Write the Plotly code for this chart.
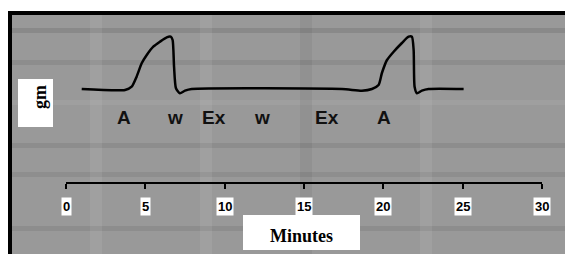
import plotly.graph_objects as go

W, H = 565, 254

# Trace data (minutes, relative deflection)
minutes = [0.99, 3.72, 4.14, 4.45, 4.77, 5.09, 5.50, 5.92, 6.35, 6.60, 6.72, 6.81, 6.93, 7.18, 7.50, 7.92,
           17.39, 18.65, 19.28, 19.70, 19.91, 20.23, 20.65, 21.17, 21.59, 21.80, 21.91, 21.97, 22.12, 22.43, 22.85, 25.06]
deflection = [0, -1, 2.3, 12.3, 25.7, 34, 42.3, 47.3, 51.7, 52.3, 49, 22.3, 0.7, -4.3, -1.7, 0,
              0, -1.7, 0, 4, 16, 29, 37.3, 46, 52.3, 52.3, 39, 2.3, -4.3, -1.7, 0, 0]

event_labels = ["A", "w", "Ex", "w", "Ex", "A"]
event_x = [3.65, 6.84, 9.33, 12.35, 16.48, 20.04]

tick_vals = [0, 5, 10, 15, 20, 25, 30]
tick_text = ["0", "5", "10", "15", "20", "25", "30"]

x_title = "Minutes"
y_title = "gm"


def px(xp):
    return xp / W


def py(yp):
    return 1 - yp / H


fig = go.Figure()
fig.add_trace(go.Scatter(x=minutes, y=deflection, mode="lines",
                         line=dict(color="black", width=2.5, shape="spline", smoothing=0.6),
                         hoverinfo="skip", showlegend=False))

shapes = [
    dict(type="rect", xref="paper", yref="paper", x0=px(8), x1=1, y0=0, y1=py(11),
         fillcolor="black", line_width=0, layer="below"),
    dict(type="rect", xref="paper", yref="paper", x0=px(12), x1=1, y0=0, y1=py(15),
         fillcolor="#999999", line_width=0, layer="below"),
]
# faint plaid texture bands
for yb, c in [(28, "rgba(0,0,0,0.10)"), (60, "rgba(0,0,0,0.08)"), (100, "rgba(255,255,255,0.06)"),
              (143, "rgba(0,0,0,0.08)"), (172, "rgba(0,0,0,0.07)"), (226, "rgba(0,0,0,0.08)")]:
    shapes.append(dict(type="rect", xref="paper", yref="paper", x0=px(12), x1=1, y0=py(yb + 5), y1=py(yb),
                       fillcolor=c, line_width=0, layer="below"))
for xb, c in [(90, "rgba(255,255,255,0.07)"), (200, "rgba(255,255,255,0.07)"), (300, "rgba(0,0,0,0.05)"),
              (420, "rgba(255,255,255,0.07)")]:
    shapes.append(dict(type="rect", xref="paper", yref="paper", x0=px(xb), x1=px(xb + 12), y0=0, y1=py(15),
                       fillcolor=c, line_width=0, layer="below"))
shapes += [
    dict(type="rect", xref="paper", yref="paper", x0=px(18), x1=px(53), y0=py(127), y1=py(79),
         fillcolor="white", line_width=0, layer="below"),
    dict(type="rect", xref="paper", yref="paper", x0=px(243), x1=px(360), y0=py(250), y1=py(215),
         fillcolor="white", line_width=0, layer="below"),
]

annotations = []
for lab, xv in zip(event_labels, event_x):
    annotations.append(dict(x=xv, y=-28, xref="x", yref="y", text="<b>" + lab + "</b>", showarrow=False,
                            font=dict(family="Liberation Sans", size=19, color="#111"),
                            xanchor="center", yanchor="middle"))
for tv, tt in zip(tick_vals, tick_text):
    annotations.append(dict(x=tv, y=py(206), xref="x", yref="paper", text="<b>" + tt + "</b>",
                            showarrow=False, bgcolor="white", borderpad=1,
                            font=dict(family="Liberation Sans", size=13, color="black"),
                            xanchor="center", yanchor="middle"))
annotations.append(dict(x=px(301), y=py(236), xref="paper", yref="paper", text="<b>" + x_title + "</b>",
                        showarrow=False, font=dict(family="Liberation Serif", size=18, color="black"),
                        xanchor="center", yanchor="middle"))
annotations.append(dict(x=px(40), y=py(97), xref="paper", yref="paper", text="<b>" + y_title + "</b>",
                        showarrow=False, textangle=-90,
                        font=dict(family="Liberation Serif", size=18, color="black"),
                        xanchor="center", yanchor="middle"))

# y scale: y=0 at pixel 89, 1 unit per pixel
y_top = 89
y_bot = y_top - H

fig.update_layout(
    width=W, height=H, margin=dict(l=0, r=0, t=0, b=0),
    paper_bgcolor="white", plot_bgcolor="rgba(0,0,0,0)",
    shapes=shapes, annotations=annotations,
    xaxis=dict(domain=[px(66), px(542)], range=[0, 30], anchor="free", position=py(182.5),
               showgrid=False, zeroline=False, showline=True, linecolor="black", linewidth=2,
               ticks="outside", ticklen=5, tickwidth=2, tickcolor="black",
               tickvals=tick_vals, showticklabels=False, fixedrange=True),
    yaxis=dict(domain=[0, 1], range=[y_bot, y_top], visible=False, fixedrange=True),
)

fig.write_html("out.html", config={"displayModeBar": False},
               post_script="document.body.style.margin='0';document.body.style.overflow='hidden';"
                           "document.documentElement.style.overflow='hidden';")
